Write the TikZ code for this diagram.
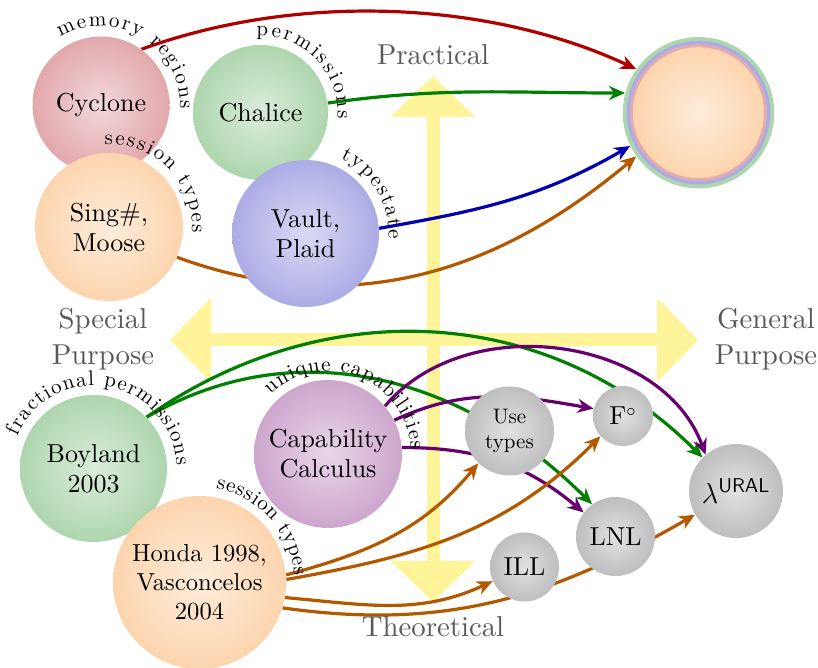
\documentclass[tikz,border=0pt]{standalone}
\usepackage{fontspec}
\setmainfont{lmroman10-regular}[Extension=.otf, BoldFont=lmroman10-bold]
\usetikzlibrary{arrows.meta,backgrounds,decorations.text}

\definecolor{cycred}{RGB}{226,168,172}
\definecolor{chalgreen}{RGB}{174,214,174}
\definecolor{singorange}{RGB}{252,213,174}
\definecolor{vaultblue}{RGB}{172,172,230}
\definecolor{capviolet}{RGB}{205,166,205}
\definecolor{nodegray}{RGB}{190,190,190}
\definecolor{ringblue}{RGB}{172,172,228}
\definecolor{ringred}{RGB}{226,170,178}
\definecolor{axisyellow}{RGB}{255,244,154}
\definecolor{linkred}{RGB}{175,0,0}
\definecolor{linkgreen}{RGB}{0,128,0}
\definecolor{linkblue}{RGB}{0,0,175}
\definecolor{linkorange}{RGB}{180,88,0}
\definecolor{linkpurple}{RGB}{102,0,110}

\newcommand\arcfont{\fontsize{10.5}{12}\selectfont}
\newcommand\langfont{\fontsize{13}{15}\selectfont}

\tikzset{
  lang/.style={circle, inner sep=0pt, align=center, font=\langfont, inner color=#1!45, outer color=#1},
  core/.style={lang=nodegray},
  arclabel/.style={decorate, decoration={text along path, text align={fit to path}, text={|\arcfont|#1}}},
  link/.style={draw=#1, line width=1.6pt, -{Stealth[length=8pt,width=7pt]}},
  axis/.style={draw=axisyellow, line width=6.5pt, {Triangle[length=20.5pt,width=41pt]}-{Triangle[length=20.5pt,width=41pt]}},
  axislabel/.style={text=black!65, font=\Large, align=center}
}

\begin{document}
\begin{tikzpicture}[x=0.5pt, y=0.5pt]
\useasboundingbox (0,0) rectangle (818,668);

% practical languages
\node[lang=cycred, minimum size=68.5pt] (cyclone) at (101,563) {Cyclone};
\node[lang=chalgreen, minimum size=67.5pt] (chalice) at (260.5,555.5) {Chalice};
\node[lang=singorange, minimum size=74pt] (sing) at (109,441) {Sing\#,\\Moose};
\node[lang=vaultblue, minimum size=73.5pt] (vault) at (305.5,434.5) {Vault,\\Plaid};

% the target
\node[circle, fill=chalgreen, minimum size=75.7pt] (target) at (698.5,555.3) {};
\fill[ringblue] (target.center) circle[radius=71.8];
\fill[ringred] (target.center) circle[radius=68.5];
\shade[inner color=singorange!45, outer color=singorange] (target.center) circle[radius=65.5];

% theoretical work
\node[lang=chalgreen, minimum size=73.5pt] (boyland) at (93.5,199.5) {Boyland\\2003};
\node[lang=capviolet, minimum size=74pt] (capcalc) at (328,214) {Capability\\Calculus};
\node[lang=singorange, minimum size=86.5pt, font=\fontsize{12.3}{14.5}\selectfont] (honda) at (199.5,85.5) {Honda 1998,\\Vasconcelos\\2004};

\node[core, minimum size=44.5pt, font=\fontsize{10.5}{12.5}\selectfont] (usetypes) at (509.5,237) {Use\\types};
\node[core, minimum size=30pt] (fcirc) at (623,252) {F$^\circ$};
\node[core, minimum size=39.5pt] (lnl) at (615.5,131.5) {LNL};
\node[core, minimum size=34.5pt] (ill) at (524.5,101) {ILL};
\node[core, minimum size=47pt, font=\Large] (lural) at (736,177) {$\lambda^{\mathsf{URAL}}$};

% labels round the circles
\path[arclabel={memory regions}] (cyclone.center) ++(121:79) arc[start angle=121, end angle=-3, radius=79];
\path[arclabel={permissions}] (chalice.center) ++(93:77) arc[start angle=93, end angle=-5, radius=77];
\path[arclabel={session types}] (sing.center) ++(93:83) arc[start angle=93, end angle=-4, radius=83];
\path[arclabel={typestate}] (vault.center) ++(65:83) arc[start angle=65, end angle=-4, radius=83];
\path[arclabel={fractional permissions}] (boyland.center) ++(157:83) arc[start angle=157, end angle=2, radius=83];
\path[arclabel={unique capabilities}] (capcalc.center) ++(134:83) arc[start angle=134, end angle=3, radius=83];
\path[arclabel={session types}] (honda.center) ++(80:95) arc[start angle=80, end angle=4, radius=95];

% axes
\node[axislabel] (practical) at (433,613) {Practical};
\node[axislabel] (theoretical) at (433,41) {Theoretical};
\node[axislabel] (special) at (103,329) {Special\\Purpose};
\node[axislabel] (general) at (766,329) {General\\Purpose};
\coordinate (upend) at (433,592);
\coordinate (downend) at (433,66);
\coordinate (leftend) at (170,328);
\coordinate (rightend) at (698,328);

\begin{scope}[on background layer]
\path[axis] (downend) -- (upend);
\path[axis] (leftend) -- (rightend);

\path[link=linkred] (cyclone.54) to[out=20, in=155, looseness=0.85] (target.145);
\path[link=linkgreen] (chalice.8) to[out=8, in=180] (target.165);
\path[link=linkblue] (vault.4) to[out=10, in=210] (target.206);
\path[link=linkorange] (sing.-24) to[out=-20, in=220] (target.215);

\path[link=linkgreen] (boyland.44) to[out=35, in=135] (lural.135);
\path[link=linkgreen] (boyland.44) to[out=30, in=135] (lnl.126);
\path[link=linkpurple] (capcalc.40) to[out=50, in=110] (lural.130);
\path[link=linkpurple] (capcalc.27) to[out=25, in=170] (fcirc.166);
\path[link=linkpurple] (capcalc.5) to[out=0, in=140] (lnl.143);
\path[link=linkorange] (honda.5) to[out=15, in=230] (usetypes.226);
\path[link=linkorange] (honda.2) to[out=10, in=225] (fcirc.222);
\path[link=linkorange] (honda.-10) to[out=-5, in=205] (ill.204);
\path[link=linkorange] (honda.-17) to[out=-8, in=210] (lural.210);
\end{scope}
\end{tikzpicture}
\end{document}
